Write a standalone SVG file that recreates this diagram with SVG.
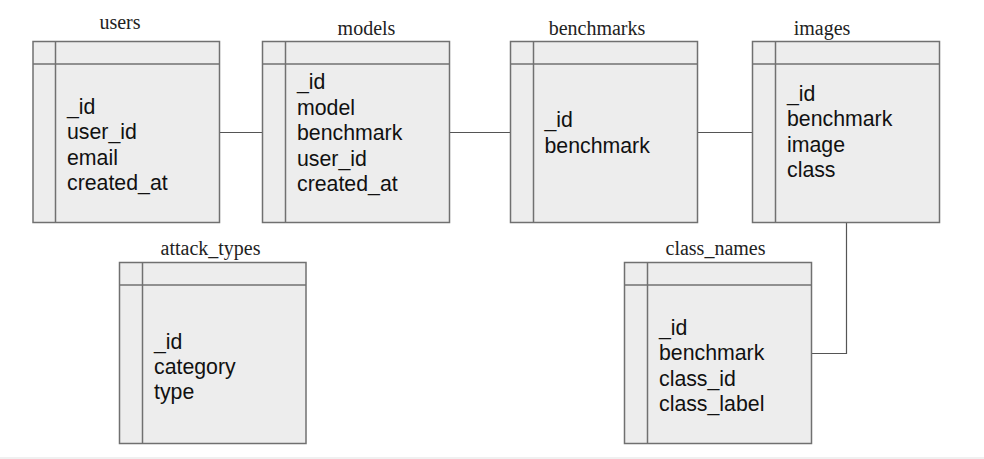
<svg xmlns="http://www.w3.org/2000/svg" width="984" height="459" viewBox="0 0 984 459">
<style>
.box{fill:#ededed;stroke:#707070;stroke-width:1.5}
.ln{stroke:#707070;stroke-width:1.5;fill:none}
.con{stroke:#555;stroke-width:1.2;fill:none}
.f{font-family:"Liberation Sans",Arial,sans-serif;font-size:21.3px;fill:#111}
.t{font-family:"Liberation Serif","Times New Roman",serif;font-size:20px;fill:#222;text-anchor:middle}
</style>
<rect x="0" y="0" width="984" height="459" fill="#fff"/>
<rect x="0" y="457" width="984" height="2" fill="#f0f0f0"/>
<g id="connectors">
<line class="con" x1="219.5" y1="132.5" x2="262.5" y2="132.5"/>
<line class="con" x1="449.5" y1="132.5" x2="510.5" y2="132.5"/>
<line class="con" x1="697.5" y1="132.5" x2="752.5" y2="132.5"/>
<polyline class="con" points="846.5,222.5 846.5,353.5 811.5,353.5"/>
</g>
<g id="users">
<text class="t" x="120" y="29">users</text>
<rect class="box" x="33" y="41.5" width="186.5" height="181"/>
<line class="ln" x1="55.5" y1="41.5" x2="55.5" y2="222.5"/>
<line class="ln" x1="33" y1="64" x2="219.5" y2="64"/>
<text class="f" x="67" y="113.5">_id</text>
<text class="f" x="67" y="139">user_id</text>
<text class="f" x="67" y="164.5">email</text>
<text class="f" x="67" y="190">created_at</text>
</g>
<g id="models">
<text class="t" x="366.5" y="34.5">models</text>
<rect class="box" x="262.5" y="41.5" width="187" height="181"/>
<line class="ln" x1="285.5" y1="41.5" x2="285.5" y2="222.5"/>
<line class="ln" x1="262.5" y1="64" x2="449.5" y2="64"/>
<text class="f" x="297" y="89">_id</text>
<text class="f" x="297" y="114.5">model</text>
<text class="f" x="297" y="140">benchmark</text>
<text class="f" x="297" y="165.5">user_id</text>
<text class="f" x="297" y="191">created_at</text>
</g>
<g id="benchmarks">
<text class="t" x="597" y="35">benchmarks</text>
<rect class="box" x="510.5" y="41.5" width="187" height="181"/>
<line class="ln" x1="533.5" y1="41.5" x2="533.5" y2="222.5"/>
<line class="ln" x1="510.5" y1="64" x2="697.5" y2="64"/>
<text class="f" x="544.5" y="127">_id</text>
<text class="f" x="544.5" y="152.5">benchmark</text>
</g>
<g id="images">
<text class="t" x="822" y="34.5">images</text>
<rect class="box" x="752.5" y="41.5" width="187" height="181"/>
<line class="ln" x1="775.5" y1="41.5" x2="775.5" y2="222.5"/>
<line class="ln" x1="752.5" y1="64" x2="939.5" y2="64"/>
<text class="f" x="787" y="100.5">_id</text>
<text class="f" x="787" y="126">benchmark</text>
<text class="f" x="787" y="151.5">image</text>
<text class="f" x="787" y="177">class</text>
</g>
<g id="attack_types">
<text class="t" x="210.5" y="255">attack_types</text>
<rect class="box" x="119.5" y="262.5" width="186.5" height="181"/>
<line class="ln" x1="142.5" y1="262.5" x2="142.5" y2="443.5"/>
<line class="ln" x1="119.5" y1="285" x2="306" y2="285"/>
<text class="f" x="154" y="348.5">_id</text>
<text class="f" x="154" y="373.5">category</text>
<text class="f" x="154" y="398.5">type</text>
</g>
<g id="class_names">
<text class="t" x="715.5" y="255">class_names</text>
<rect class="box" x="624.5" y="262.5" width="187" height="181"/>
<line class="ln" x1="647.5" y1="262.5" x2="647.5" y2="443.5"/>
<line class="ln" x1="624.5" y1="285" x2="811.5" y2="285"/>
<text class="f" x="659" y="334.5">_id</text>
<text class="f" x="659" y="360">benchmark</text>
<text class="f" x="659" y="385.5">class_id</text>
<text class="f" x="659" y="411">class_label</text>
</g>
</svg>
